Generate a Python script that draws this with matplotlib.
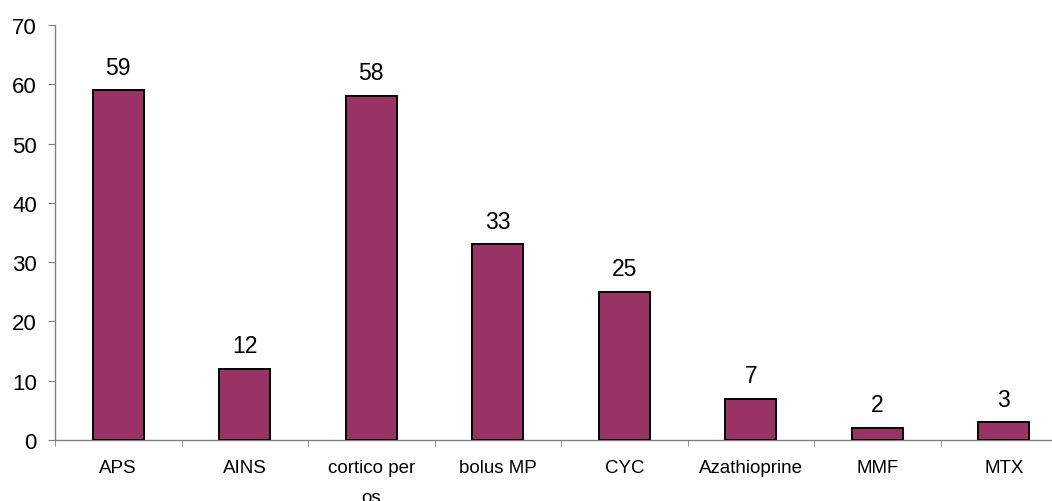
import numpy as np
import matplotlib
matplotlib.use('Agg')
import matplotlib.pyplot as plt

plt.rcParams['font.family'] = ['Liberation Sans', 'DejaVu Sans']

categories = ['APS', 'AINS', 'cortico per\nos', 'bolus MP', 'CYC', 'Azathioprine', 'MMF', 'MTX']
counts = [59, 12, 58, 33, 25, 7, 2, 3]

bar_color = '#993366'
axis_gray = '#808080'

fig = plt.figure(figsize=(10.52, 5.02), dpi=100)
# plot area runs a little past the right edge, as in the original
ax = fig.add_axes([55 / 1052, 61 / 502, 1012 / 1052, 415 / 502])

x = np.arange(len(categories))
bars = ax.bar(x, counts, width=0.4, color=bar_color, edgecolor='black', linewidth=1.4, zorder=3)

for rect, v in zip(bars, counts):
    ax.annotate(str(v), (rect.get_x() + rect.get_width() / 2, v),
                xytext=(0, 12), textcoords='offset points',
                ha='center', va='baseline', fontsize=16.5)

ax.set_xlim(-0.5, len(categories) - 0.5)
ax.set_ylim(0, 70)
ax.set_yticks(np.arange(0, 71, 10))
ax.tick_params(axis='y', direction='out', length=5, color=axis_gray, labelsize=16, pad=8)

# labels centred on bars, ticks between categories
ax.set_xticks(x)
ax.set_xticklabels(categories, fontsize=13.5, linespacing=2.0, va='top')
ax.set_xticks(np.arange(-0.5, len(categories), 1), minor=True)
ax.tick_params(axis='x', which='major', length=0, pad=13.5)
ax.tick_params(axis='x', which='minor', direction='out', length=4, color=axis_gray)

for side in ['top', 'right']:
    ax.spines[side].set_visible(False)
for side in ['left', 'bottom']:
    ax.spines[side].set_color(axis_gray)
    ax.spines[side].set_linewidth(1)

fig.savefig('out.png', dpi=100)
